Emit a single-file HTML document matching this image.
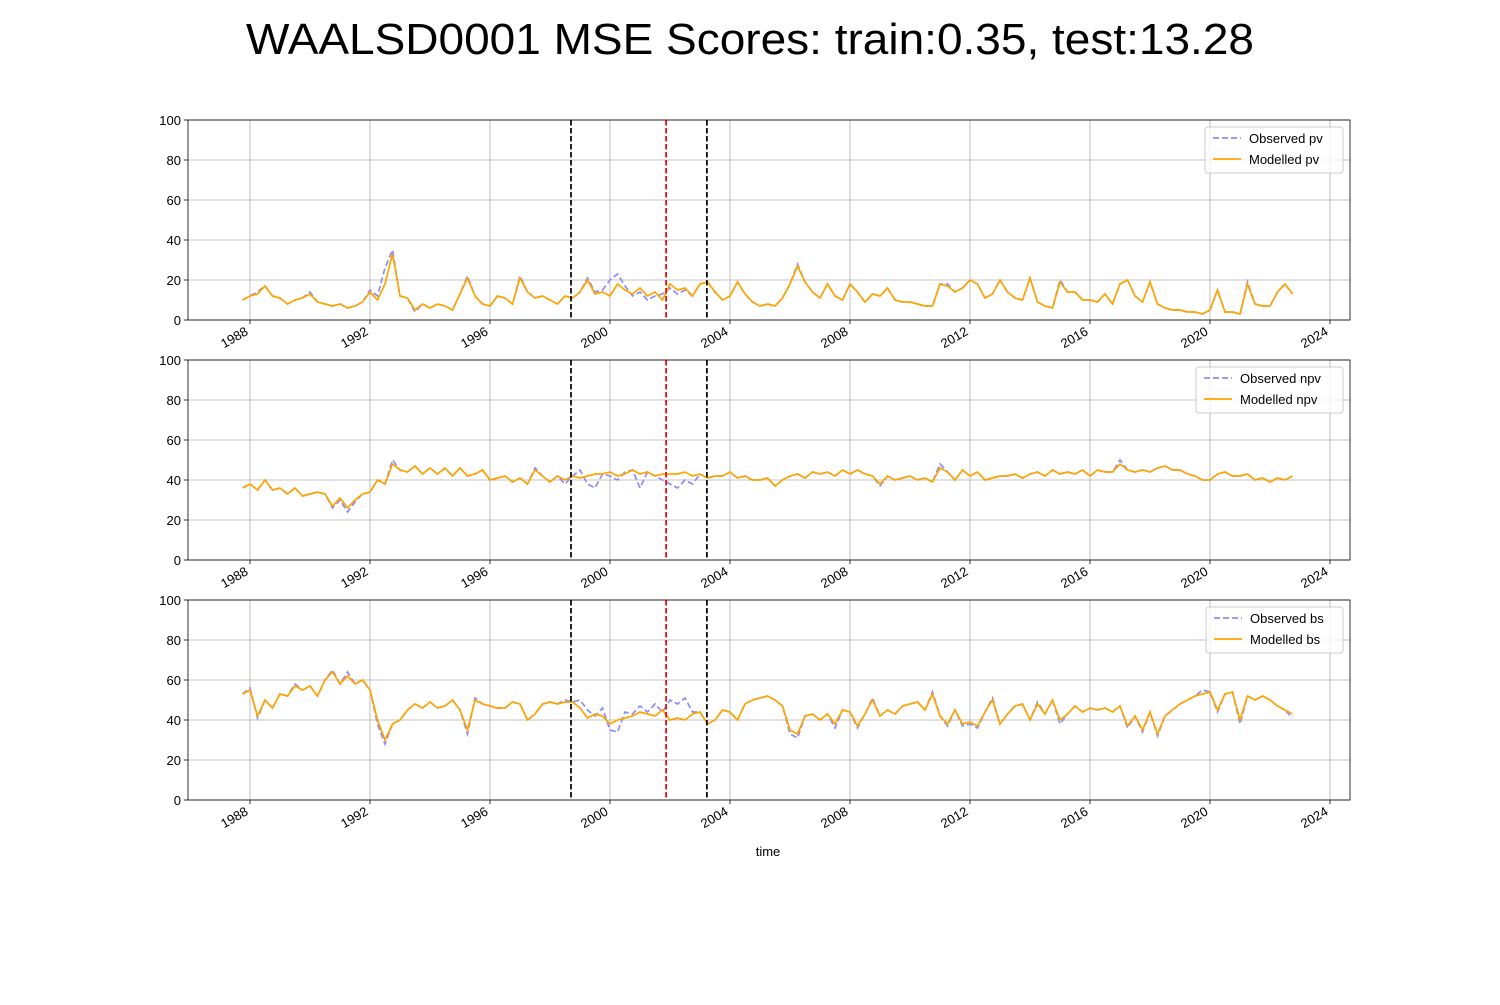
<!DOCTYPE html>
<html><head><meta charset="utf-8"><style>
body{margin:0;background:#fff;font-family:"Liberation Sans",sans-serif}
svg text{font-family:"Liberation Sans",sans-serif}
</style></head><body>
<svg id="chart" width="1500" height="1000" xmlns="http://www.w3.org/2000/svg">
<rect width="1500" height="1000" fill="#fff"/>
<text x="750" y="54" font-size="44" text-anchor="middle" textLength="1008" lengthAdjust="spacingAndGlyphs">WAALSD0001 MSE Scores: train:0.35, test:13.28</text>
<text x="768" y="856" font-size="13" text-anchor="middle">time</text>
</svg>
<script>
const startYear = 1987.75, step = 0.25;
const yTicks = [0,20,40,60,80,100];
const xTicks = [1988,1992,1996,2000,2004,2008,2012,2016,2020,2024];
const vLinesBlack = [1998.7, 2003.23];
const vLineRed = [2001.87];
const pvModelled = [10,12,13,17,12,11,8,10,11,13,9,8,7,8,6,7,9,14,10,18,33,12,11,5,8,6,8,7,5,13,21,12,8,7,12,11,8,21,14,11,12,10,8,12,11,14,20,13,14,12,18,15,13,16,12,14,10,18,15,16,12,18,19,14,10,12,19,13,9,7,8,7,11,18,27,19,14,11,18,12,10,18,14,9,13,12,16,10,9,9,8,7,7,18,17,14,16,20,18,11,13,20,14,11,10,21,9,7,6,19,14,14,10,10,9,13,8,18,20,12,9,19,8,6,5,5,4,4,3,5,15,4,4,3,18,8,7,7,14,18,13];
const pvObserved = [10,12,14,17,12,11,8,10,11,14,9,8,7,8,6,7,9,15,12,26,35,12,11,4,8,6,8,7,5,13,22,12,8,7,12,11,8,22,14,11,12,10,8,12,11,14,21,14,15,20,23,17,12,14,10,12,13,16,13,15,12,18,19,14,10,12,19,13,9,7,8,7,11,18,28,19,14,11,18,12,10,18,14,9,13,12,16,10,9,9,8,7,7,18,18,14,16,20,18,11,13,20,14,11,10,21,9,7,6,20,14,14,10,10,9,13,8,18,20,12,9,19,8,6,5,5,4,4,3,5,15,4,4,3,19,8,7,7,14,18,13];
const npvModelled = [36,38,35,40,35,36,33,36,32,33,34,33,27,31,26,30,33,34,40,38,48,45,44,47,43,46,43,46,42,46,42,43,45,40,41,42,39,41,38,45,42,39,42,40,42,41,42,43,43,44,42,43,45,43,44,42,43,43,43,44,42,43,41,42,42,44,41,42,40,40,41,37,40,42,43,41,44,43,44,42,45,43,45,43,42,38,42,40,41,42,40,41,39,46,44,40,45,42,44,40,41,42,42,43,41,43,44,42,45,43,44,43,45,42,45,44,44,48,45,44,45,44,46,47,45,45,43,42,40,40,43,44,42,42,43,40,41,39,41,40,42];
const npvObserved = [36,38,35,40,35,36,33,36,32,33,34,33,26,30,24,29,33,34,40,38,50,45,44,47,43,46,43,46,42,46,42,43,45,40,41,42,39,41,38,46,42,39,42,38,42,45,38,36,43,42,40,44,45,36,44,42,40,38,36,40,38,43,41,42,42,44,41,42,40,40,41,37,40,42,43,41,44,43,44,42,45,43,45,43,42,37,42,40,41,42,40,41,39,48,44,40,45,42,44,40,41,42,42,43,41,43,44,42,45,43,44,43,45,42,45,44,44,50,45,44,45,44,46,47,45,45,43,42,40,40,43,44,42,42,43,40,41,39,41,40,42];
const bsModelled = [53,55,42,50,46,53,52,57,55,57,52,60,64,58,62,58,60,55,40,30,38,40,45,48,46,49,46,47,50,45,35,50,48,47,46,46,49,48,40,43,48,49,48,49,49,46,41,43,42,38,40,41,42,44,43,42,45,40,41,40,43,44,38,40,45,44,40,48,50,51,52,50,47,35,33,42,43,40,43,38,45,44,37,43,50,42,45,43,47,48,49,45,53,42,38,45,38,39,37,44,50,38,43,47,48,40,48,43,50,40,43,47,44,46,45,46,44,47,37,42,35,44,33,42,45,48,50,52,53,54,45,53,54,40,52,50,52,50,47,45,43];
const bsObserved = [53,56,41,50,46,53,52,58,55,57,52,60,65,58,64,58,60,55,38,28,38,40,45,48,46,49,46,47,50,45,33,51,48,47,46,46,49,48,40,43,48,49,48,50,49,50,45,42,46,35,34,44,43,47,44,48,44,50,48,51,44,44,38,40,45,44,40,48,50,51,52,50,47,33,31,42,43,40,43,36,45,44,36,43,51,42,45,43,47,48,49,45,54,42,37,45,37,38,36,44,51,38,43,47,48,40,49,43,50,38,43,47,44,46,45,46,44,47,36,42,34,44,32,42,45,48,50,52,55,54,44,53,54,38,52,50,52,50,47,45,41];
const panels = [
  {top:120, obs:pvObserved, mod:pvModelled, name:'pv', legendW:138},
  {top:360, obs:npvObserved, mod:npvModelled, name:'npv', legendW:147},
  {top:600, obs:bsObserved, mod:bsModelled, name:'bs', legendW:137}
];
const L=188, R=1350, H=200;
const xs = y => 250 + (y-1988)*30;
const svg = document.getElementById('chart');
const NS = 'http://www.w3.org/2000/svg';
function mk(tag, attrs, parent){const e=document.createElementNS(NS,tag);for(const k in attrs)e.setAttribute(k,attrs[k]);(parent||svg).appendChild(e);return e;}
panels.forEach((p,pi)=>{
  const g = mk('g',{});
  
  
  const ys = v => p.top + H - v/100*H;
  xTicks.forEach(t=>{
    const x=xs(t);
    mk('line',{x1:x,x2:x,y1:p.top,y2:p.top+H,stroke:'#b0b0b0','stroke-width':0.8},g);
    mk('line',{x1:x,x2:x,y1:p.top+H,y2:p.top+H+4,stroke:'#000','stroke-width':0.8},g);
    const ax = x-1, ay = p.top+H+14;
    const tx = mk('text',{x:ax,y:ay,'font-size':13,'text-anchor':'end',transform:`rotate(-30 ${ax} ${ay})`},g);
    
    
    tx.textContent=t;
  });
  yTicks.forEach(t=>{
    const y=ys(t);
    mk('line',{x1:L,x2:R,y1:y,y2:y,stroke:'#b0b0b0','stroke-width':0.8},g);
    mk('line',{x1:L-4,x2:L,y1:y,y2:y,stroke:'#000','stroke-width':0.8},g);
    const tx = mk('text',{x:L-7,y:y+5,'font-size':13,'text-anchor':'end'},g);
    
    
    tx.textContent=t;
  });
  const pts = arr => arr.map((v,i)=>xs(startYear+i*step).toFixed(1)+','+ys(v).toFixed(1)).join(' ');
  const o = mk('polyline',{points:pts(p.obs),fill:'none',stroke:'#8c8cff','stroke-width':1.7,'stroke-dasharray':'6,3'},g);
  
  
  const m = mk('polyline',{points:pts(p.mod),fill:'none',stroke:'#ffa500','stroke-width':1.7},g);
  
  
  vLinesBlack.forEach(v=>{
    const l = mk('line',{x1:xs(v),x2:xs(v),y1:p.top,y2:p.top+H,stroke:'#000','stroke-width':1.7,'stroke-dasharray':'5.5,2.5'},g);
    
    
  });
  vLineRed.forEach(v=>{
    const l = mk('line',{x1:xs(v),x2:xs(v),y1:p.top,y2:p.top+H,stroke:'#e00','stroke-width':1.7,'stroke-dasharray':'5.5,2.5'},g);
    
    
  });
  mk('rect',{x:L,y:p.top,width:R-L,height:H,fill:'none',stroke:'#000','stroke-width':0.8},g);
  const lg = mk('g',{},g);
  
  
  const lx = R-7-p.legendW, ly = p.top+7;
  mk('rect',{x:lx,y:ly,width:p.legendW,height:46,rx:3,fill:'#fff','fill-opacity':0.8,stroke:'#ccc'},lg);
  mk('line',{x1:lx+8,x2:lx+36,y1:ly+11,y2:ly+11,stroke:'#8c8cff','stroke-width':1.7,'stroke-dasharray':'6,3'},lg);
  mk('line',{x1:lx+8,x2:lx+36,y1:ly+32,y2:ly+32,stroke:'#ffa500','stroke-width':1.7},lg);
  const t1 = mk('text',{x:lx+44,y:ly+16,'font-size':13},lg);
  
  
  t1.textContent='Observed '+p.name;
  const t2 = mk('text',{x:lx+44,y:ly+37,'font-size':13},lg);
  
  
  t2.textContent='Modelled '+p.name;
});
</script>
</body></html>
